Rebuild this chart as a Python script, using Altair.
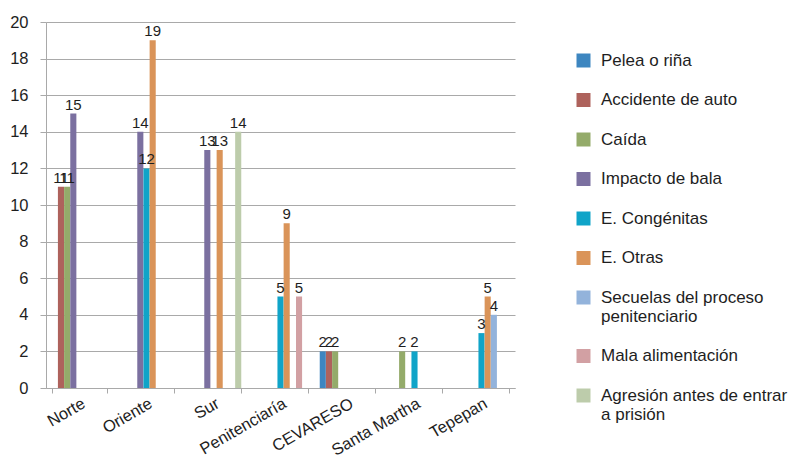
import altair as alt
import pandas as pd

# Centres (x axis) and causes (series)
centros = ["Norte", "Oriente", "Sur", "Penitenciaría", "CEVARESO", "Santa Martha", "Tepepan"]
causas = [
    "Pelea o riña",
    "Accidente de auto",
    "Caída",
    "Impacto de bala",
    "E. Congénitas",
    "E. Otras",
    "Secuelas del proceso penitenciario",
    "Mala alimentación",
    "Agresión antes de entrar a prisión",
]
colores = ["#3d86c0", "#ae625c", "#94ab6a", "#7b70a0", "#10a4c8",
           "#da9459", "#93b3db", "#d2a0a3", "#bdccab"]

# Cases per cause, one value per centre (None = no cases reported)
pelea       = [None, None, None, None, 2, None, None]
accidente   = [11, None, None, None, 2, None, None]
caida       = [11, None, None, None, 2, 2, None]
bala        = [15, 14, 13, None, None, None, None]
congenitas  = [None, 12, None, 5, None, 2, 3]
otras       = [None, 19, 13, 9, None, None, 5]
secuelas    = [None, None, None, None, None, None, 4]
alimentacion = [None, None, None, 5, None, None, None]
agresion    = [None, None, 14, None, None, None, None]

y_ticks = [0, 2, 4, 6, 8, 10, 12, 14, 16, 18, 20]

series = [pelea, accidente, caida, bala, congenitas, otras, secuelas, alimentacion, agresion]

rows = []
for causa, valores in zip(causas, series):
    for centro, v in zip(centros, valores):
        if v is not None:
            rows.append({"centro": centro, "causa": causa, "casos": v})
df = pd.DataFrame(rows)

FONT = "Liberation Sans"
GRID = "#a9a9a9"
INK = "#1e1e1e"

x_enc = alt.X(
    "centro:N",
    sort=centros,
    scale=alt.Scale(paddingInner=0.17, paddingOuter=0.085),
    axis=alt.Axis(
        title=None,
        labelAngle=-30,
        labelFontSize=16.5,
        labelFont=FONT,
        labelColor=INK,
        tickBand="extent",
        tickSize=5,
        tickColor=GRID,
        domainColor=GRID,
        labelPadding=2,
        labelOverlap=False,
        grid=False,
    ),
)
offset_enc = alt.XOffset("causa:N", sort=causas,
                         scale=alt.Scale(domain=causas, paddingInner=0, paddingOuter=0))
y_enc = alt.Y(
    "casos:Q",
    scale=alt.Scale(domain=[0, 20], nice=False),
    axis=alt.Axis(
        title=None,
        values=y_ticks,
        tickCount=len(y_ticks) + 1,
        labelFontSize=16.5,
        labelFont=FONT,
        labelColor=INK,
        labelOverlap=False,
        labelFlush=False,
        tickSize=6,
        tickColor=GRID,
        domainColor=GRID,
        gridColor=GRID,
        labelPadding=12,
    ),
)

legend_labels = (
    "datum.label == 'Secuelas del proceso penitenciario' ? ['Secuelas del proceso', 'penitenciario'] : "
    "datum.label == 'Agresión antes de entrar a prisión' ? ['Agresión antes de entrar', 'a prisión'] : datum.label"
)

color_enc = alt.Color(
    "causa:N",
    sort=causas,
    scale=alt.Scale(domain=causas, range=colores),
    legend=alt.Legend(
        title=None,
        orient="none",
        legendX=529,
        legendY=30,
        symbolType="square",
        symbolSize=196,
        symbolStrokeWidth=0,
        labelFontSize=17,
        labelFont=FONT,
        labelColor=INK,
        labelOffset=9,
        labelLimit=300,
        labelExpr=legend_labels,
        rowPadding=21.5,
    ),
)

base = alt.Chart(df).encode(x=x_enc, xOffset=offset_enc, y=y_enc)

bars = base.mark_bar(size=6.1).encode(color=color_enc)

labels = base.mark_text(
    baseline="alphabetic", dy=-4, fontSize=15, font=FONT, color=INK
).encode(text="casos:Q")

chart = (
    alt.layer(bars, labels)
    .properties(
        width=469,
        height=366,
        autosize=alt.AutoSizeParams(type="none"),
        padding={"left": 46, "top": 22, "right": 284, "bottom": 76},
        background="white",
    )
    .configure_view(stroke=None)
)

chart.save("out.html", embed_options={"renderer": "svg", "actions": False})
